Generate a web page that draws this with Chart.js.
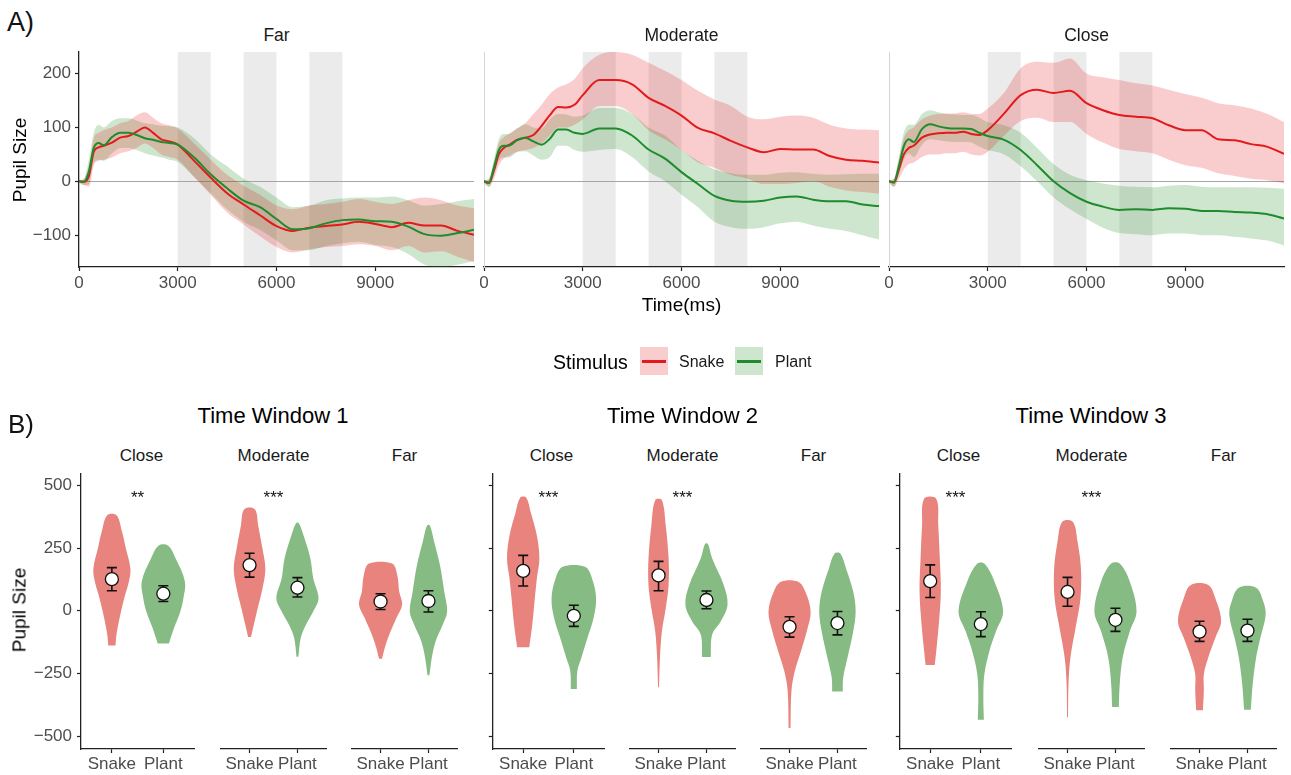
<!DOCTYPE html>
<html>
<head>
<meta charset="utf-8">
<title>Pupil size by stimulus and distance</title>
<script src="https://cdn.jsdelivr.net/npm/chart.js@4.4.1/dist/chart.umd.min.js"></script>
<style>
  html, body { margin: 0; padding: 0; background: #fff; }
  #fig { position: relative; width: 1291px; height: 775px; overflow: hidden;
         font-family: "Liberation Sans", Arial, Helvetica, sans-serif; }
  #fig canvas { position: absolute; }
  .t { position: absolute; line-height: 1; white-space: nowrap; color: #1a1a1a; }
  .key { position: absolute; }
</style>
</head>
<body>
<div id="fig"></div>
<script>
// ---------- Panel A: pupil time courses ----------
const TIME_MS = [0,150,300,450,600,750,1000,1250,1500,1750,2000,2250,2500,2750,3000,
  3500,4000,4500,5000,5500,6000,6500,7000,7500,8000,8500,9000,9500,10000,10500,11000,11500,12000];

const FAR_SNAKE    = [0,-1,10,55,63,66,72,81,84,92,100,90,78,74,68,38,7,-22,-43,-63,-83,-92,-86,-83,-80,-75,-79,-85,-77,-82,-82,-92,-99];
const FAR_SNAKE_HI = [2,5,30,80,90,95,100,108,112,122,128,118,108,104,98,70,40,12,-8,-25,-45,-52,-45,-42,-38,-33,-38,-42,-35,-30,-35,-45,-50];
const FAR_SNAKE_LO = [-2,-7,-10,30,38,40,44,52,56,62,70,62,50,45,40,8,-25,-58,-80,-102,-122,-132,-126,-122,-120,-117,-120,-128,-120,-132,-130,-140,-150];
const FAR_PLANT    = [0,-1,18,62,71,67,82,90,90,86,80,77,73,71,68,44,13,-13,-36,-48,-70,-89,-87,-78,-72,-71,-74,-75,-84,-98,-101,-96,-90];
const FAR_PLANT_HI = [2,5,40,90,105,100,112,117,117,113,108,106,103,102,100,80,50,28,5,-10,-30,-48,-45,-35,-32,-30,-30,-28,-35,-45,-42,-37,-33];
const FAR_PLANT_LO = [-2,-7,-5,35,40,38,52,62,62,58,52,48,44,40,36,8,-22,-52,-75,-90,-110,-128,-128,-120,-115,-112,-118,-122,-135,-155,-160,-155,-148];

const MOD_SNAKE    = [0,-3,20,50,62,67,77,81,86,103,123,138,137,142,160,188,188,180,155,140,122,99,89,75,63,54,60,59,59,47,40,38,35];
const MOD_SNAKE_HI = [2,5,35,70,82,88,98,108,125,142,162,174,180,190,210,235,240,235,220,205,188,168,152,140,120,115,120,122,118,105,98,96,95];
const MOD_SNAKE_LO = [-2,-10,5,30,42,47,55,58,62,70,85,100,100,105,115,140,140,125,95,78,58,35,25,12,5,-5,-5,-3,0,-10,-17,-20,-23];
const MOD_PLANT    = [0,-3,25,58,66,66,76,81,74,68,79,96,96,90,88,98,98,85,59,42,17,-5,-27,-36,-38,-36,-30,-28,-34,-37,-37,-43,-46];
const MOD_PLANT_HI = [2,5,40,78,88,88,98,106,100,98,115,125,124,120,122,136,136,125,100,85,58,38,22,15,12,12,16,17,14,12,13,14,14];
const MOD_PLANT_LO = [-2,-10,10,38,44,44,54,56,48,40,45,66,66,58,55,58,60,45,18,0,-25,-48,-75,-85,-88,-85,-78,-75,-82,-88,-92,-100,-108];

const CLOSE_SNAKE    = [0,-2,22,50,62,66,81,87,89,90,90,92,88,86,95,126,160,170,164,168,145,132,123,120,117,104,95,95,78,76,69,64,51];
const CLOSE_SNAKE_HI = [2,5,40,80,95,100,115,122,125,126,126,128,125,125,135,165,210,222,220,228,200,193,188,182,178,170,162,155,145,141,135,125,110];
const CLOSE_SNAKE_LO = [-2,-10,5,22,32,35,45,50,50,52,52,55,50,48,55,85,112,118,110,110,88,72,60,56,52,40,30,25,15,10,5,2,-4];
const CLOSE_PLANT    = [0,-2,28,65,78,73,97,106,102,99,98,98,97,90,84,77,58,30,0,-22,-38,-47,-53,-52,-53,-50,-51,-55,-55,-57,-58,-61,-69];
const CLOSE_PLANT_HI = [2,5,45,90,105,105,125,132,128,125,124,123,123,118,110,104,90,62,32,12,2,-4,-8,-10,-11,-8,-7,-10,-11,-11,-11,-12,-14];
const CLOSE_PLANT_LO = [-2,-10,12,40,52,45,68,78,76,74,73,73,72,64,58,50,28,0,-30,-52,-70,-86,-96,-98,-100,-97,-97,-100,-100,-103,-106,-110,-119];

const DISTANCES_A = ['Far', 'Moderate', 'Close'];
const ANALYSIS_WINDOWS_MS = [[3000, 4000], [5000, 6000], [7000, 8000]];
const X_TICKS_A = [0, 3000, 6000, 9000];
const Y_TICKS_A = [-100, 0, 100, 200];
const STIMULI = ['Snake', 'Plant'];

// ---------- Panel B: window averages (violins: [pupil size, half-width]) ----------
const GROUPS = ['Snake', 'Plant'];
const DISTANCES_B = ['Close', 'Moderate', 'Far'];
const WINDOW_TITLES = ['Time Window 1', 'Time Window 2', 'Time Window 3'];
const Y_TICKS_B = [-500, -250, 0, 250, 500];

const TW1_CLOSE_SNAKE = [[-138,0.07],[-95,0.09],[-29,0.15],[50,0.24],[116,0.33],[168,0.36],[250,0.27],[313,0.2],[381,0.09]];
const TW1_CLOSE_PLANT = [[-130,0.11],[-68,0.21],[-3,0.33],[50,0.39],[116,0.42],[208,0.24],[260,0.09]];
const TW1_MOD_SNAKE   = [[-105,0.03],[-55,0.09],[10,0.17],[89,0.27],[168,0.33],[247,0.27],[340,0.18],[405,0.11]];
const TW1_MOD_PLANT   = [[-183,0.02],[-108,0.07],[-55,0.18],[-3,0.33],[50,0.44],[129,0.33],[208,0.27],[287,0.15],[349,0.03]];
const TW1_FAR_SNAKE   = [[-191,0.03],[-134,0.11],[-82,0.21],[-29,0.33],[24,0.45],[76,0.39],[142,0.35],[188,0.24]];
const TW1_FAR_PLANT   = [[-257,0.02],[-187,0.07],[-121,0.15],[-55,0.3],[-3,0.39],[76,0.33],[182,0.24],[274,0.12],[340,0.03]];

const TW2_CLOSE_SNAKE = [[-145,0.12],[-55,0.18],[50,0.23],[129,0.27],[208,0.32],[300,0.27],[392,0.15],[451,0.06]];
const TW2_CLOSE_PLANT = [[-312,0.06],[-240,0.07],[-187,0.15],[-108,0.27],[-29,0.39],[50,0.44],[129,0.36],[175,0.22]];
const TW2_MOD_SNAKE   = [[-305,0.01],[-187,0.03],[-82,0.07],[10,0.15],[103,0.21],[208,0.21],[340,0.15],[441,0.07]];
const TW2_MOD_PLANT   = [[-184,0.09],[-95,0.12],[-42,0.3],[24,0.44],[103,0.36],[208,0.12],[267,0.03]];
const TW2_FAR_SNAKE   = [[-467,0.02],[-318,0.04],[-240,0.11],[-160,0.24],[-82,0.36],[-3,0.44],[76,0.33],[116,0.18]];
const TW2_FAR_PLANT   = [[-322,0.11],[-266,0.12],[-187,0.21],[-82,0.33],[-3,0.38],[76,0.33],[168,0.18],[228,0.06]];

const TW3_CLOSE_SNAKE = [[-216,0.09],[-160,0.12],[-55,0.17],[76,0.21],[208,0.19],[340,0.16],[447,0.12]];
const TW3_CLOSE_PLANT = [[-434,0.06],[-345,0.05],[-253,0.07],[-160,0.17],[-82,0.3],[-3,0.44],[116,0.27],[188,0.07]];
const TW3_MOD_SNAKE   = [[-424,0.01],[-292,0.02],[-187,0.06],[-55,0.18],[50,0.27],[168,0.28],[274,0.21],[355,0.11]];
const TW3_MOD_PLANT   = [[-384,0.07],[-292,0.09],[-187,0.15],[-82,0.3],[-3,0.44],[116,0.3],[188,0.09]];
const TW3_FAR_SNAKE   = [[-397,0.07],[-318,0.09],[-253,0.09],[-187,0.18],[-108,0.33],[-42,0.45],[50,0.33],[103,0.18]];
const TW3_FAR_PLANT   = [[-395,0.07],[-292,0.11],[-187,0.18],[-108,0.27],[-16,0.38],[37,0.33],[92,0.18]];

// means and interval bounds, ordered Close Snake, Close Plant, Moderate Snake, Moderate Plant, Far Snake, Far Plant
const TW1_MEAN = [126, 68, 182, 92, 37, 39];
const TW1_HI   = [172, 100, 229, 132, 68, 80];
const TW1_LO   = [80, 37, 134, 55, 5, -5];
const TW2_MEAN = [159, -20, 141, 43, -64, -49];
const TW2_HI   = [221, 22, 197, 79, -24, -3];
const TW2_LO   = [99, -62, 80, 8, -105, -96];
const TW3_MEAN = [118, -53, 75, -36, -83, -79];
const TW3_HI   = [183, -4, 133, 10, -42, -34];
const TW3_LO   = [53, -103, 18, -82, -122, -122];

const TW1_STARS = ['**', '***', ''];
const TW2_STARS = ['***', '***', ''];
const TW3_STARS = ['***', '***', ''];
const STAR_LEVEL = 450;

// ---------- styling ----------
const FONT = '"Liberation Sans", Arial, Helvetica, sans-serif';
const SNAKE_LINE = '#e31a1c';
const PLANT_LINE = '#1e8b2c';
const SNAKE_RIBBON = 'rgba(227,26,28,0.22)';
const PLANT_RIBBON = 'rgba(34,139,34,0.22)';
const SNAKE_VIOLIN = '#e8837d';
const PLANT_VIOLIN = '#87bb84';
const TICK_COLOR = '#4d4d4d';
const AXIS_COLOR = '#222';
const NONE = 'rgba(0,0,0,0)';

Chart.defaults.font.family = FONT;
Chart.defaults.animation = false;
Chart.defaults.events = [];
Chart.defaults.plugins.legend.display = false;
Chart.defaults.plugins.tooltip.enabled = false;

const fig = document.getElementById('fig');

function addCanvas(left, top, w, h) {
  const c = document.createElement('canvas');
  c.width = w; c.height = h;
  c.style.left = left + 'px'; c.style.top = top + 'px';
  c.style.width = w + 'px'; c.style.height = h + 'px';
  fig.appendChild(c);
  return c;
}

function addText(txt, x, baseline, size, opts = {}) {
  const d = document.createElement('div');
  d.className = 't';
  d.textContent = txt;
  d.style.fontSize = size + 'px';
  if (opts.color) d.style.color = opts.color;
  d.style.left = x + 'px';
  d.style.top = (baseline - 0.8465 * size) + 'px';
  if (opts.center) d.style.transform = 'translateX(-50%)';
  fig.appendChild(d);
  return d;
}

function addRotated(txt, cx, cy, size) {
  const d = document.createElement('div');
  d.className = 't';
  d.textContent = txt;
  d.style.fontSize = size + 'px';
  d.style.color = '#000';
  d.style.left = cx + 'px';
  d.style.top = cy + 'px';
  d.style.transform = 'translate(-50%,-50%) rotate(-90deg)';
  fig.appendChild(d);
}

function addBox(left, top, w, h, bg) {
  const d = document.createElement('div');
  d.className = 'key';
  d.style.left = left + 'px'; d.style.top = top + 'px';
  d.style.width = w + 'px'; d.style.height = h + 'px';
  d.style.background = bg;
  fig.appendChild(d);
}

const signed = v => (v < 0 ? '\u2212' + Math.abs(v) : String(v));

// keep the plotting area fixed: no extra room reserved for end labels
function fixWidth(w) {
  return sc => { sc.width = w; sc.paddingTop = 0; sc.paddingBottom = 0; };
}
function fixHeight(h) {
  return sc => { sc.height = h; sc.paddingLeft = 0; sc.paddingRight = 0; };
}

// shaded analysis windows behind the time courses
const bandPlugin = {
  id: 'bands',
  beforeDraw(chart, args, opts) {
    if (!opts.ranges) return;
    const { ctx, chartArea: a, scales: { x } } = chart;
    ctx.save();
    ctx.fillStyle = opts.color;
    for (const [s, e] of opts.ranges) {
      const x0 = x.getPixelForValue(s), x1 = x.getPixelForValue(e);
      ctx.fillRect(x0, a.top, x1 - x0, a.bottom - a.top);
    }
    ctx.restore();
  }
};

// significance markers between the two violins
const starPlugin = {
  id: 'stars',
  afterDatasetsDraw(chart, args, opts) {
    if (!opts.text) return;
    const { ctx, scales: { x, y } } = chart;
    ctx.save();
    ctx.font = '17px ' + FONT;
    ctx.fillStyle = '#111';
    ctx.textAlign = 'center';
    ctx.textBaseline = 'middle';
    ctx.fillText(opts.text, x.getPixelForValue(opts.at), y.getPixelForValue(opts.level));
    ctx.restore();
  }
};

// ---------- Panel A ----------
const A_SERIES = [
  { snake: FAR_SNAKE, snakeHi: FAR_SNAKE_HI, snakeLo: FAR_SNAKE_LO, plant: FAR_PLANT, plantHi: FAR_PLANT_HI, plantLo: FAR_PLANT_LO },
  { snake: MOD_SNAKE, snakeHi: MOD_SNAKE_HI, snakeLo: MOD_SNAKE_LO, plant: MOD_PLANT, plantHi: MOD_PLANT_HI, plantLo: MOD_PLANT_LO },
  { snake: CLOSE_SNAKE, snakeHi: CLOSE_SNAKE_HI, snakeLo: CLOSE_SNAKE_LO, plant: CLOSE_PLANT, plantHi: CLOSE_PLANT_HI, plantLo: CLOSE_PLANT_LO }
];
const A_GEOM = [
  { left: 0, width: 480, yW: 79, padR: 6, labels: true },
  { left: 470, width: 410, yW: 14, padR: 1, labels: false },
  { left: 880, width: 410, yW: 9, padR: 6, labels: false }
];
const A_TOP = 47, A_HEIGHT = 255;

const toPoints = arr => TIME_MS.map((t, k) => ({ x: t, y: arr[k] }));

A_SERIES.forEach((s, i) => {
  const g = A_GEOM[i];
  const canvas = addCanvas(g.left, A_TOP, g.width, A_HEIGHT);
  const meanLine = (arr, color) => ({
    data: toPoints(arr), borderColor: color, borderWidth: 2, pointRadius: 0,
    fill: false, cubicInterpolationMode: 'monotone'
  });
  const edge = (arr, fill, bg) => ({
    data: toPoints(arr), borderColor: NONE, borderWidth: 1, pointRadius: 0,
    fill: fill, backgroundColor: bg, cubicInterpolationMode: 'monotone'
  });
  new Chart(canvas, {
    type: 'line',
    data: {
      datasets: [
        meanLine(s.plant, PLANT_LINE),
        meanLine(s.snake, SNAKE_LINE),
        edge(s.snakeHi, false, NONE),
        edge(s.snakeLo, '-1', SNAKE_RIBBON),
        edge(s.plantHi, false, NONE),
        edge(s.plantLo, '-1', PLANT_RIBBON)
      ]
    },
    options: {
      responsive: false,
      devicePixelRatio: 1,
      layout: { padding: { left: 0, right: g.padR, top: 5, bottom: 0 } },
      plugins: { bands: { ranges: ANALYSIS_WINDOWS_MS, color: '#ebebeb' } },
      scales: {
        x: {
          type: 'linear', min: 0, max: 12000,
          afterBuildTicks: sc => { sc.ticks = X_TICKS_A.map(v => ({ value: v })); },
          afterFit: fixHeight(35),
          ticks: { color: TICK_COLOR, font: { size: 17 }, padding: 2, maxRotation: 0, autoSkip: false,
                   callback: v => signed(v) },
          grid: { display: true, drawOnChartArea: false, drawTicks: true, tickLength: 4,
                  tickColor: AXIS_COLOR, tickWidth: 1.2 },
          border: { display: true, color: AXIS_COLOR, width: 1.3 }
        },
        y: {
          type: 'linear', min: -159, max: 240,
          afterBuildTicks: sc => { sc.ticks = Y_TICKS_A.map(v => ({ value: v })); },
          afterFit: fixWidth(g.yW),
          ticks: { display: g.labels, color: TICK_COLOR, font: { size: 17 }, padding: 4,
                   callback: v => signed(v) },
          grid: {
            display: true, drawOnChartArea: true, drawTicks: g.labels, tickLength: g.labels ? 4 : 0,
            tickColor: AXIS_COLOR, tickWidth: 1.2, lineWidth: 1,
            color: c => (c.tick && c.tick.value === 0 ? '#a6a6a6' : NONE)
          },
          border: { display: true, color: g.labels ? AXIS_COLOR : '#d6d6d6', width: g.labels ? 1.3 : 1 }
        }
      }
    },
    plugins: [bandPlugin]
  });
  addText(DISTANCES_A[i], g.left + g.yW + (g.width - g.yW - g.padR) / 2, 41.7, 17.5, { center: true });
});

addText('A)', 7, 32, 27, { color: '#111' });
addRotated('Pupil Size', 19, 160, 19);
addText('Time(ms)', 681.5, 311, 19, { center: true, color: '#000' });

// legend
addText('Stimulus', 553, 369.3, 19.5, { color: '#000' });
addBox(640, 347, 28, 28, SNAKE_RIBBON);
addBox(642, 360, 24, 2.5, SNAKE_LINE);
addText(STIMULI[0], 679, 367.3, 16, { color: '#1a1a1a' });
addBox(735, 347, 28, 28, PLANT_RIBBON);
addBox(737, 360, 24, 2.5, PLANT_LINE);
addText(STIMULI[1], 775, 367.3, 16, { color: '#1a1a1a' });

// ---------- Panel B ----------
const VIOLINS = [
  [[TW1_CLOSE_SNAKE, TW1_CLOSE_PLANT], [TW1_MOD_SNAKE, TW1_MOD_PLANT], [TW1_FAR_SNAKE, TW1_FAR_PLANT]],
  [[TW2_CLOSE_SNAKE, TW2_CLOSE_PLANT], [TW2_MOD_SNAKE, TW2_MOD_PLANT], [TW2_FAR_SNAKE, TW2_FAR_PLANT]],
  [[TW3_CLOSE_SNAKE, TW3_CLOSE_PLANT], [TW3_MOD_SNAKE, TW3_MOD_PLANT], [TW3_FAR_SNAKE, TW3_FAR_PLANT]]
];
const MEANS = [TW1_MEAN, TW2_MEAN, TW3_MEAN];
const HIS = [TW1_HI, TW2_HI, TW3_HI];
const LOS = [TW1_LO, TW2_LO, TW3_LO];
const STARS = [TW1_STARS, TW2_STARS, TW3_STARS];
const VIOLIN_FILLS = [SNAKE_VIOLIN, PLANT_VIOLIN];

const B_LEFTS = [[81, 213, 344], [491, 622, 753], [898, 1031, 1163]];
const B_WIDTH = 121, B_TOP = 466, B_HEIGHT = 313;

function outline(profile, c) {
  const right = profile.map(([v, hw]) => ({ x: c + hw, y: v }));
  const left = profile.slice().reverse().map(([v, hw]) => ({ x: c - hw, y: v }));
  return right.concat(left);
}

for (let w = 0; w < 3; w++) {
  for (let d = 0; d < 3; d++) {
    const areaLeft = B_LEFTS[w][d];
    const mode = d === 0 ? (w === 0 ? 'labels' : 'ticks') : 'none';
    const yW = mode === 'labels' ? 81 : mode === 'ticks' ? 6 : 0;
    const canvas = addCanvas(areaLeft - yW, B_TOP, yW + B_WIDTH, B_HEIGHT);

    const m = MEANS[w], hi = HIS[w], lo = LOS[w];
    const datasets = [];
    datasets.push({
      data: GROUPS.map((gname, k) => ({ x: k + 1, y: m[d * 2 + k] })),
      showLine: false, pointRadius: 6.5, pointBackgroundColor: '#fff',
      pointBorderColor: '#111', pointBorderWidth: 1.3
    });
    const caps = [];
    GROUPS.forEach((gname, k) => {
      caps.push({ x: k + 1, y: hi[d * 2 + k] });
      caps.push({ x: k + 1, y: lo[d * 2 + k] });
    });
    datasets.push({
      data: caps, showLine: false, pointStyle: 'line', pointRadius: 5,
      pointBorderColor: '#111', pointBorderWidth: 1.6
    });
    GROUPS.forEach((gname, k) => {
      datasets.push({
        data: [{ x: k + 1, y: lo[d * 2 + k] }, { x: k + 1, y: hi[d * 2 + k] }],
        borderColor: '#111', borderWidth: 1.6, pointRadius: 0, fill: false
      });
    });
    GROUPS.forEach((gname, k) => {
      datasets.push({
        data: outline(VIOLINS[w][d][k], k + 1),
        borderColor: NONE, borderWidth: 1, pointRadius: 0,
        backgroundColor: VIOLIN_FILLS[k], fill: 'shape', tension: 0.35
      });
    });

    new Chart(canvas, {
      type: 'line',
      data: { datasets },
      options: {
        responsive: false,
        devicePixelRatio: 1,
        layout: { padding: { left: 0, right: 0, top: 5, bottom: 0 } },
        plugins: { stars: { text: STARS[w][d], at: 1.5, level: STAR_LEVEL } },
        scales: {
          x: {
            type: 'linear', min: 0.4, max: 2.6,
            afterBuildTicks: sc => { sc.ticks = GROUPS.map((gname, k) => ({ value: k + 1 })); },
            afterFit: fixHeight(30),
            ticks: { color: TICK_COLOR, font: { size: 17 }, padding: 1, maxRotation: 0, autoSkip: false,
                     callback: v => GROUPS[Math.round(v) - 1] },
            grid: { display: true, drawOnChartArea: false, drawTicks: true, tickLength: 4,
                    tickColor: AXIS_COLOR, tickWidth: 1.2 },
            border: { display: true, color: AXIS_COLOR, width: 1.3 }
          },
          y: {
            type: 'linear', min: -551, max: 546,
            display: mode !== 'none',
            afterBuildTicks: sc => { sc.ticks = Y_TICKS_B.map(v => ({ value: v })); },
            afterFit: fixWidth(yW),
            ticks: { display: mode === 'labels', color: TICK_COLOR, font: { size: 17 }, padding: 5,
                     callback: v => signed(v) },
            grid: { display: true, drawOnChartArea: false, drawTicks: true, tickLength: 4,
                    tickColor: AXIS_COLOR, tickWidth: 1.2 },
            border: { display: true, color: AXIS_COLOR, width: 1.3 }
          }
        }
      },
      plugins: [starPlugin]
    });

    addText(DISTANCES_B[d], areaLeft + B_WIDTH / 2, 461, 17, { center: true });
  }
  const wl = B_LEFTS[w][0], wr = B_LEFTS[w][2] + B_WIDTH;
  addText(WINDOW_TITLES[w], (wl + wr) / 2, 423.5, 22, { center: true, color: '#000' });
}

addText('B)', 8, 432.7, 26, { color: '#111' });
addRotated('Pupil Size', 19, 610, 19);
</script>
</body>
</html>
